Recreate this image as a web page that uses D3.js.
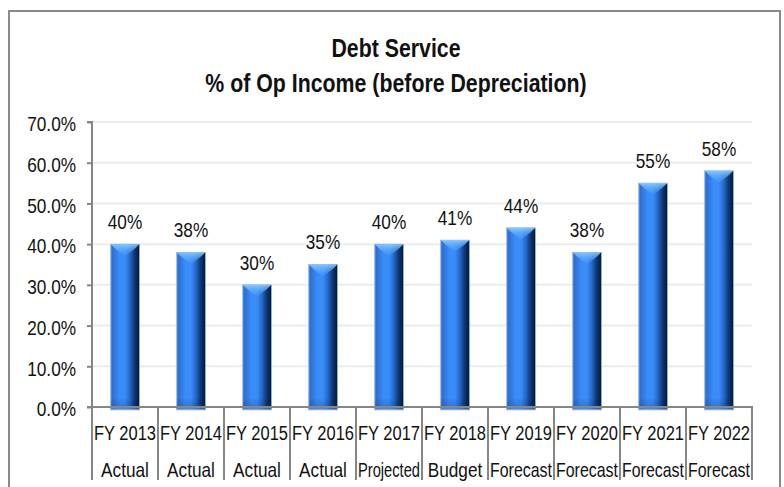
<!DOCTYPE html>
<html>
<head>
<meta charset="utf-8">
<script src="https://cdn.jsdelivr.net/npm/d3@7"></script>
<style>
  html, body { margin: 0; padding: 0; background: #fff; }
  svg { display: block; }
  text { font-family: "Liberation Sans", Arial, sans-serif; fill: #111; }
</style>
</head>
<body>
<svg id="chart" width="784" height="487"></svg>
<script>
// Debt service as a share of operating income (before depreciation)
const fiscalYears = ["FY 2013", "FY 2014", "FY 2015", "FY 2016", "FY 2017", "FY 2018", "FY 2019", "FY 2020", "FY 2021", "FY 2022"];
const basis = ["Actual", "Actual", "Actual", "Actual", "Projected", "Budget", "Forecast", "Forecast", "Forecast", "Forecast"];
const debtServicePct = [40, 38, 30, 35, 40, 41, 44, 38, 55, 58];
const yTicks = [0, 10, 20, 30, 40, 50, 60, 70];
const titleLines = ["Debt Service", "% of Op Income (before Depreciation)"];

const svg = d3.select("#chart");
const plot = { left: 92, right: 752, top: 122, bottom: 407 };
const NARROW = 0.82; // condense the sans face to a narrow width

// outer chart frame
svg.append("rect")
  .attr("x", 9).attr("y", 11)
  .attr("width", 771).attr("height", 490)
  .attr("fill", "#fff")
  .attr("stroke", "#8a8a8a").attr("stroke-width", 2);

// title
svg.append("g").selectAll("text")
  .data(titleLines)
  .join("text")
  .attr("x", 396)
  .attr("y", (d, i) => 57 + i * 35)
  .attr("text-anchor", "middle")
  .attr("font-size", 26)
  .attr("font-weight", "bold")
  .text(d => d);

const x = d3.scaleBand().domain(fiscalYears).range([plot.left, plot.right]).padding(0);
const y = d3.scaleLinear().domain([0, 70]).range([plot.bottom, plot.top]);

// gridlines
svg.append("g").selectAll("line")
  .data(yTicks.filter(t => t > 0))
  .join("line")
  .attr("x1", plot.left).attr("x2", plot.right)
  .attr("y1", d => y(d)).attr("y2", d => y(d))
  .attr("stroke", "#ececec").attr("stroke-width", 2);

// bar gradients
const defs = svg.append("defs");
const body = defs.append("linearGradient").attr("id", "barBody").attr("x1", 0).attr("x2", 1).attr("y1", 0).attr("y2", 0);
[["0%", "#5b9cf0"], ["6%", "#2c6fd4"], ["30%", "#3a8cf6"], ["50%", "#3a8cf8"], ["68%", "#2466c4"], ["82%", "#133a74"], ["100%", "#09172e"]]
  .forEach(([o, c]) => body.append("stop").attr("offset", o).attr("stop-color", c));

const cap = defs.append("linearGradient").attr("id", "barCap").attr("x1", 0).attr("x2", 0).attr("y1", 0).attr("y2", 1);
[["0%", "#8ccaff", 0.95], ["100%", "#4aa0ff", 0.2]]
  .forEach(([o, c, a]) => cap.append("stop").attr("offset", o).attr("stop-color", c).attr("stop-opacity", a));

const base = defs.append("linearGradient").attr("id", "barBase").attr("x1", 0).attr("x2", 0).attr("y1", 0).attr("y2", 1);
[["0%", "#000", 0], ["70%", "#0a2a60", 0.18], ["100%", "#9cc4f4", 0.9]]
  .forEach(([o, c, a]) => base.append("stop").attr("offset", o).attr("stop-color", c).attr("stop-opacity", a));

const bw = x.bandwidth() * 0.435;
const bars = svg.append("g").selectAll("g")
  .data(fiscalYears.map((fy, i) => ({ fy, v: debtServicePct[i] })))
  .join("g")
  .attr("transform", d => `translate(${x(d.fy) + (x.bandwidth() - bw) / 2},0)`);

bars.append("rect")
  .attr("x", 0).attr("width", bw)
  .attr("y", d => y(d.v))
  .attr("height", d => y(0) - y(d.v) + 3)
  .attr("fill", "url(#barBody)")
  .attr("stroke", "#7fb2ee").attr("stroke-width", 0.6);

// bevelled top: light wedge pointing down toward the middle
bars.append("path")
  .attr("d", d => {
    const t = y(d.v);
    return `M0,${t} L${bw},${t} L${bw * 0.82},${t + 5} L${bw * 0.5},${t + 12} L${bw * 0.18},${t + 5} Z`;
  })
  .attr("fill", "url(#barCap)");

// rounded foot of each bar
bars.append("rect")
  .attr("x", 0).attr("width", bw)
  .attr("y", y(0) - 9)
  .attr("height", 12)
  .attr("fill", "url(#barBase)");

// value labels
svg.append("g").selectAll("text")
  .data(debtServicePct)
  .join("text")
  .attr("x", (d, i) => x(fiscalYears[i]) + x.bandwidth() / 2)
  .attr("y", d => y(d) - 15)
  .attr("text-anchor", "middle")
  .attr("font-size", 21)
  .text(d => d + "%");

// y axis
const yAxis = svg.append("g")
  .attr("transform", `translate(${plot.left},0)`)
  .call(d3.axisLeft(y).tickValues(yTicks).tickSize(5).tickPadding(11).tickFormat(d => d.toFixed(1) + "%"));
yAxis.select(".domain").attr("stroke", "#868686").attr("stroke-width", 2).attr("d", `M-5,${plot.top}H0V${plot.bottom}`);
yAxis.selectAll(".tick line").attr("stroke", "#868686").attr("stroke-width", 2);
yAxis.selectAll(".tick text")
  .attr("font-size", 21)
  .attr("dy", "0.42em")
  .style("font-family", "\"Liberation Sans\", Arial, sans-serif")
  .attr("fill", "#111");

// x axis line and category dividers
svg.append("line")
  .attr("x1", plot.left - 5).attr("x2", plot.right + 1)
  .attr("y1", y(0)).attr("y2", y(0))
  .attr("stroke", "#868686").attr("stroke-width", 2);

const edges = fiscalYears.map(f => x(f)).concat([plot.right]);
svg.append("g").selectAll("line")
  .data(edges)
  .join("line")
  .attr("x1", d => d).attr("x2", d => d)
  .attr("y1", y(0)).attr("y2", 480)
  .attr("stroke", "#868686").attr("stroke-width", 2);

// two-row category labels
const cats = svg.append("g").attr("class", "cat-labels").selectAll("g")
  .data(fiscalYears.map((fy, i) => ({ fy, b: basis[i] })))
  .join("g")
  .attr("transform", d => `translate(${x(d.fy) + x.bandwidth() / 2},0)`);
cats.append("text").attr("y", 440).attr("text-anchor", "middle").attr("font-size", 21).text(d => d.fy);
cats.append("text").attr("y", 477).attr("text-anchor", "middle").attr("font-size", 21).text(d => d.b);

// narrow every label by scaling it horizontally about its anchor point;
// category labels are also kept inside their own band
const maxCatWidth = x.bandwidth() - 4;
svg.selectAll("text").each(function () {
  const w = this.getComputedTextLength();
  const inCats = this.closest(".cat-labels") !== null;
  const s = inCats ? Math.min(NARROW, maxCatWidth / w) : NARROW;
  const sel = d3.select(this);
  const x0 = +sel.attr("x") || 0;
  sel.attr("x", 0).attr("transform", `translate(${x0},0) scale(${s},1)`);
});
</script>
</body>
</html>
